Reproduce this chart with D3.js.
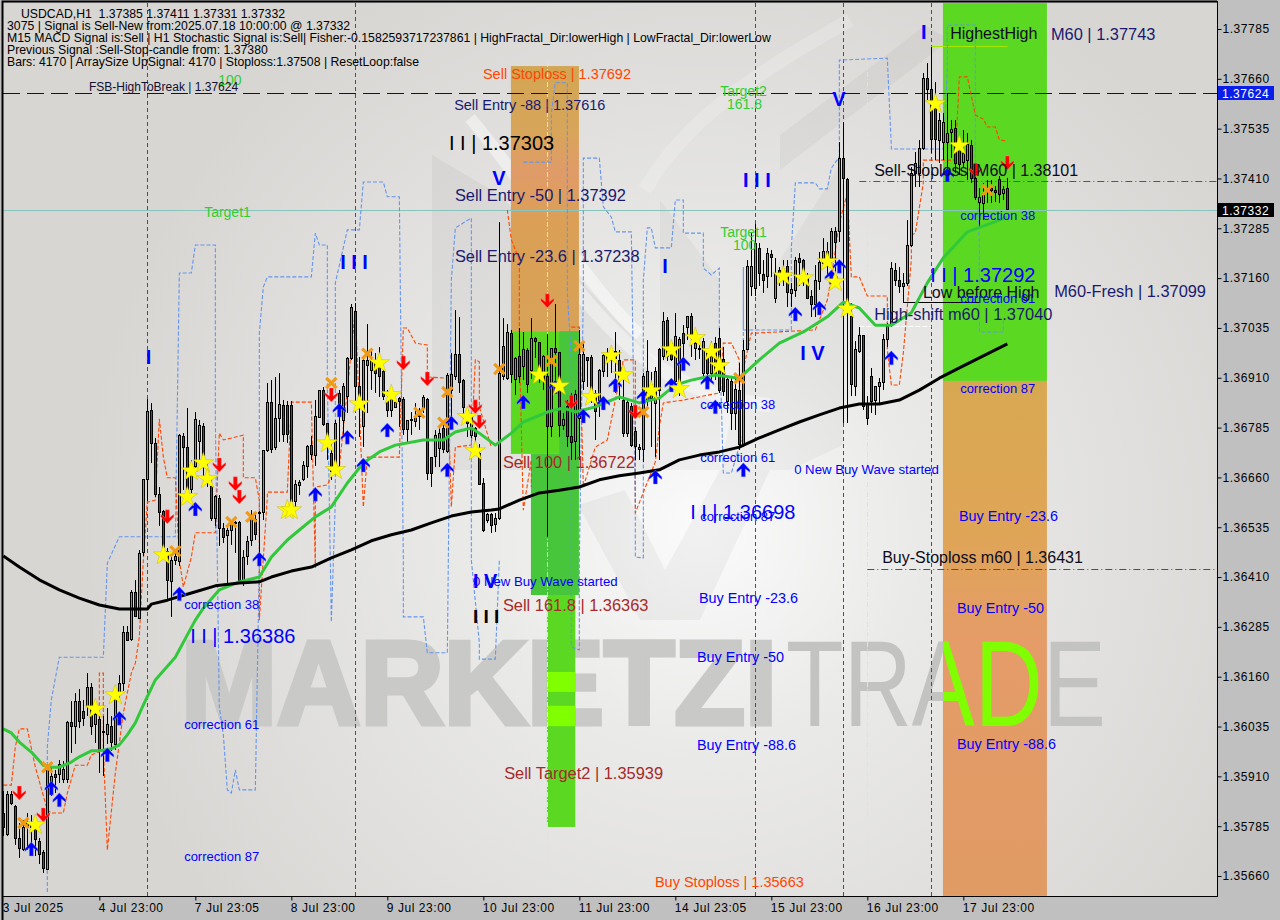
<!DOCTYPE html>
<html>
<head>
<meta charset="utf-8">
<script src="https://cdn.jsdelivr.net/npm/d3@7"></script>
<style>
  html, body { margin: 0; padding: 0; background: #c0c0c0; }
  svg { display: block; font-family: "Liberation Sans", Arial, sans-serif; }
  .axis text { font-size: 12px; letter-spacing: .55px; fill: #000; }
  .axis path, .axis line { stroke: #000; }
</style>
</head>
<body>
<div id="viz"></div>
<script>
// candles
var opens = [1.35818,1.35764,1.35864,1.35835,1.35753,1.35726,1.35781,1.35781,1.35776,1.35747,
1.35720,1.35676,1.35889,1.35914,1.35914,1.35903,1.35903,1.36046,1.36034,1.36098,
1.36073,1.36084,1.36134,1.36040,1.36052,1.36019,1.36015,1.36036,1.35990,1.36119,
1.36143,1.36272,1.36253,1.36372,1.36307,1.36472,1.36656,1.36827,1.36744,1.36618,
1.36575,1.36474,1.36399,1.36452,1.36449,1.36763,1.36734,1.36629,1.36688,1.36750,
1.36788,1.36671,1.36637,1.36556,1.36606,1.36533,1.36514,1.36527,1.36544,1.36547,
1.36402,1.36462,1.36502,1.36554,1.36569,1.36571,1.36728,1.36848,1.36734,1.36809,
1.36840,1.36840,1.36840,1.36600,1.36639,1.36654,1.36688,1.36739,1.36714,1.36811,
1.36877,1.36795,
1.36720,1.36687,1.36871,1.36804,1.36862,1.36959,1.37076,1.36887,1.36787,1.36942,
1.36929,1.36950,1.36946,1.36925,1.36854,1.36829,1.36836,1.36858,1.36856,1.36779,
1.36802,1.36800,1.36825,1.36833,1.36856,1.36710,1.36712,1.36733,1.36783,1.36724,
1.36879,1.36913,1.36969,1.36902,1.36827,1.36766,1.36783,1.36720,1.36645,1.36551,
1.36566,1.36541,1.36557,1.36913,1.36908,1.37020,1.36906,1.36963,1.36938,1.36978,
1.36929,1.37009,1.36998,1.36904,1.36913,1.36787,1.36984,1.36973,1.36789,1.36837,
1.36762,1.36750,1.36808,1.36900,1.36961,1.36961,1.36871,1.36854,1.36925,1.36954,
1.36967,1.36975,1.36954,1.36854,1.36770,1.36839,1.36775,1.36729,1.36729,1.36854,
1.36858,1.36846,1.36982,
1.36963,1.37053,1.36997,1.36900,1.36892,1.37022,1.37037,1.37063,1.36984,1.36980,
1.36921,1.36971,1.36921,1.36997,1.37009,1.36955,1.36850,1.36900,1.36821,1.36879,
1.36742,1.36980,1.37139,1.37134,1.37235,1.37170,1.37164,1.37218,1.37109,1.37180,
1.37172,1.37189,1.37122,1.37130,1.37210,1.37203,1.37159,1.37115,1.37093,1.37151,
1.37197,1.37226,1.37210,1.37276,1.37276,1.37459,1.37408,1.37063,1.36888,1.36975,
1.37017,1.36842,1.36914,1.36854,1.36888,1.36898,1.37005,1.37042,1.37180,1.37155,
1.37140,1.37147,1.37241,1.37423,1.37423,1.37485,1.37662,1.37632,1.37586,1.37505,
1.37499,1.37499,1.37525,1.37536,1.37499,1.37450,1.37455,1.37492,1.37411,1.37350,
1.37348,1.37377,1.37386,1.37381,1.37407,1.37373,1.37385];
var closes = [1.35781,1.35864,1.35842,1.35753,1.35730,1.35781,1.35793,1.35789,1.35751,1.35714,
1.35680,1.35931,1.35910,1.35908,1.35939,1.35927,1.36044,1.36036,1.36098,1.36048,
1.36056,1.36134,1.36036,1.36065,1.35973,1.36023,1.36040,1.35994,1.36115,1.36144,
1.36270,1.36251,1.36372,1.36311,1.36470,1.36656,1.36826,1.36744,1.36617,1.36572,
1.36483,1.36402,1.36452,1.36462,1.36765,1.36735,1.36629,1.36683,1.36805,1.36790,
1.36714,1.36650,1.36556,1.36611,1.36533,1.36510,1.36527,1.36546,1.36547,1.36402,
1.36460,1.36500,1.36562,1.36516,1.36571,1.36727,1.36848,1.36729,1.36809,1.36842,
1.36767,1.36767,1.36600,1.36643,1.36648,1.36689,1.36738,1.36717,1.36813,1.36877,
1.36792,1.36759,
1.36674,1.36796,1.36829,1.36887,1.36958,1.37086,1.36887,1.36862,1.36954,1.36954,
1.36954,1.36921,1.36913,1.36862,1.36827,1.36871,1.36847,1.36850,1.36779,1.36804,
1.36806,1.36808,1.36812,1.36861,1.36670,1.36670,1.36766,1.36770,1.36729,1.36915,
1.36917,1.36969,1.36898,1.36836,1.36796,1.36812,1.36762,1.36643,1.36528,1.36566,
1.36539,1.36557,1.36921,1.36988,1.37023,1.36917,1.36959,1.36913,1.36982,1.36892,
1.37009,1.37000,1.36936,1.36964,1.36787,1.36984,1.36973,1.36789,1.36806,1.36762,
1.36748,1.36867,1.36969,1.36969,1.36954,1.36867,1.36825,1.36928,1.36967,1.36967,
1.36954,1.36959,1.36904,1.36770,1.36847,1.36741,1.36737,1.36735,1.36914,1.36925,
1.36892,1.36925,1.36879,
1.37051,1.36963,1.36955,1.37013,1.37005,1.36997,1.37063,1.37012,1.36997,1.36984,
1.37001,1.36921,1.36963,1.36921,1.36879,1.36875,1.36905,1.36821,1.36881,1.36742,
1.36978,1.37189,1.37189,1.37246,1.37172,1.37155,1.37222,1.37212,1.37172,1.37172,
1.37155,1.37123,1.37132,1.37205,1.37200,1.37150,1.37109,1.37093,1.37155,1.37200,
1.37226,1.37197,1.37276,1.37249,1.37459,1.37410,1.37097,1.36892,1.36980,1.37017,
1.36838,1.36808,1.36850,1.36888,1.36899,1.37006,1.37038,1.37184,1.37155,1.37140,
1.37147,1.37241,1.37423,1.37448,1.37485,1.37661,1.37632,1.37507,1.37507,1.37555,
1.37550,1.37524,1.37532,1.37448,1.37444,1.37473,1.37494,1.37411,1.37363,1.37363,
1.37373,1.37381,1.37381,1.37376,1.37371,1.37383,1.37332];
var highs = [1.35873,1.35873,1.35873,1.35839,1.35793,1.35801,1.35818,1.35814,1.35806,1.35755,
1.35726,1.35935,1.35931,1.35927,1.35952,1.35948,1.36048,1.36098,1.36119,1.36128,
1.36102,1.36169,1.36144,1.36077,1.36061,1.36061,1.36082,1.36061,1.36136,1.36165,
1.36286,1.36286,1.36378,1.36403,1.36479,1.36656,1.36857,1.36846,1.36759,1.36637,
1.36579,1.36483,1.36462,1.36479,1.36770,1.36771,1.36834,1.36704,1.36823,1.36805,
1.36796,1.36696,1.36663,1.36617,1.36617,1.36546,1.36537,1.36554,1.36550,1.36550,
1.36479,1.36512,1.36579,1.36571,1.36575,1.36729,1.36897,1.36905,1.36913,1.36922,
1.36855,1.36851,1.36851,1.36654,1.36654,1.36700,1.36742,1.36763,1.36855,1.36880,
1.36888,1.36796,
1.36745,1.36804,1.36879,1.36896,1.36961,1.37096,1.37098,1.36963,1.36959,1.37046,
1.36979,1.36971,1.36988,1.36938,1.36879,1.36879,1.36854,1.36862,1.36862,1.36804,
1.36825,1.36846,1.36833,1.36867,1.36858,1.36712,1.36779,1.36783,1.36796,1.36921,
1.36971,1.37080,1.37063,1.36908,1.36833,1.36821,1.36787,1.36745,1.36658,1.36570,
1.36570,1.36570,1.37300,1.37059,1.37046,1.37030,1.36963,1.37034,1.37025,1.36984,
1.37059,1.37013,1.37000,1.36967,1.37021,1.36984,1.37096,1.36975,1.36821,1.36854,
1.36871,1.36879,1.37030,1.36996,1.36963,1.36967,1.36879,1.36933,1.36971,1.36984,
1.36975,1.37025,1.36979,1.36904,1.36854,1.36846,1.36787,1.36745,1.36921,1.37005,
1.36925,1.36938,1.36984,
1.37076,1.37063,1.37001,1.37072,1.37013,1.37042,1.37063,1.37072,1.37013,1.36992,
1.37009,1.36980,1.37001,1.37013,1.37034,1.36988,1.36913,1.36913,1.36913,1.36946,
1.37005,1.37206,1.37272,1.37297,1.37247,1.37206,1.37235,1.37231,1.37210,1.37189,
1.37205,1.37205,1.37147,1.37214,1.37222,1.37208,1.37172,1.37130,1.37193,1.37226,
1.37260,1.37251,1.37285,1.37289,1.37502,1.37552,1.37410,1.37097,1.37001,1.37038,
1.37017,1.36863,1.36934,1.36888,1.36909,1.37021,1.37047,1.37201,1.37197,1.37189,
1.37172,1.37306,1.37439,1.37476,1.37506,1.37674,1.37699,1.37741,1.37653,1.37574,
1.37574,1.37624,1.37557,1.37557,1.37507,1.37532,1.37524,1.37507,1.37448,1.37386,
1.37398,1.37407,1.37407,1.37390,1.37415,1.37390,1.37411];
var lows = [1.35760,1.35760,1.35839,1.35739,1.35705,1.35722,1.35726,1.35718,1.35710,1.35689,
1.35668,1.35674,1.35860,1.35868,1.35893,1.35893,1.35893,1.35969,1.35990,1.36031,
1.36036,1.36061,1.36015,1.35994,1.35919,1.35910,1.35990,1.35973,1.35977,1.36102,
1.36123,1.36249,1.36249,1.36310,1.36307,1.36462,1.36600,1.36696,1.36612,1.36537,
1.36462,1.36349,1.36311,1.36441,1.36437,1.36629,1.36621,1.36621,1.36679,1.36704,
1.36654,1.36637,1.36550,1.36537,1.36487,1.36495,1.36391,1.36491,1.36470,1.36395,
1.36387,1.36441,1.36487,1.36504,1.36454,1.36554,1.36725,1.36721,1.36728,1.36750,
1.36750,1.36746,1.36575,1.36575,1.36617,1.36650,1.36658,1.36704,1.36688,1.36809,
1.36788,1.36704,
1.36653,1.36674,1.36687,1.36762,1.36821,1.36954,1.36846,1.36762,1.36737,1.36821,
1.36879,1.36871,1.36862,1.36854,1.36812,1.36812,1.36833,1.36787,1.36766,1.36745,
1.36766,1.36787,1.36779,1.36821,1.36653,1.36635,1.36687,1.36687,1.36720,1.36720,
1.36804,1.36904,1.36871,1.36804,1.36762,1.36758,1.36745,1.36641,1.36524,1.36545,
1.36520,1.36524,1.36553,1.36904,1.36904,1.36896,1.36867,1.36896,1.36904,1.36871,
1.36908,1.36959,1.36896,1.36879,1.36511,1.36762,1.36887,1.36762,1.36779,1.36737,
1.36704,1.36704,1.36704,1.36879,1.36887,1.36846,1.36754,1.36812,1.36913,1.36913,
1.36921,1.36871,1.36854,1.36762,1.36762,1.36737,1.36704,1.36704,1.36699,1.36837,
1.36737,1.36712,1.36704,
1.36955,1.36951,1.36951,1.36888,1.36863,1.36955,1.37005,1.36963,1.36955,1.36956,
1.36905,1.36896,1.36905,1.36905,1.36871,1.36863,1.36821,1.36779,1.36779,1.36729,
1.36737,1.36980,1.37114,1.37114,1.37139,1.37122,1.37134,1.37164,1.37097,1.37139,
1.37139,1.37088,1.37088,1.37113,1.37139,1.37139,1.37109,1.37063,1.37063,1.37130,
1.37189,1.37164,1.37197,1.37172,1.37251,1.36796,1.36796,1.36863,1.36863,1.36971,
1.36829,1.36792,1.36821,1.36817,1.36846,1.36879,1.36988,1.37038,1.37139,1.37122,
1.37097,1.37139,1.37239,1.37389,1.37389,1.37481,1.37607,1.37473,1.37457,1.37448,
1.37457,1.37423,1.37461,1.37423,1.37419,1.37440,1.37407,1.37398,1.37356,1.37290,
1.37306,1.37348,1.37348,1.37352,1.37348,1.37356,1.37331];

// axes
var priceTicks = [1.37785,1.37660,1.37535,1.37410,1.37285,1.37160,1.37035,1.36910,1.36785,1.36660,1.36535,1.36410,1.36285,1.36160,1.36035,1.35910,1.35785,1.35660];
var timeBars = [0,24,48,72,96,120,144,168,192,216,240];
var timeLabels = ["3 Jul 2025","4 Jul 23:00","7 Jul 23:05","8 Jul 23:00","9 Jul 23:00","10 Jul 23:00","11 Jul 23:00","14 Jul 23:05","15 Jul 23:00","16 Jul 23:00","17 Jul 23:00"];

// moving averages (sampled at readable bars)
var slowBars = [0,4,9,14,19,24,29,36,37,41,47,53,59,64,67,72,77,82,87,92,97,102,107,112,117,122,124,129,134,139,144,149,154,159,164,169,174,179,184,189,194,199,204,209,214,219,224,229,234,239,244,249,251];
var slowPrices = [1.36463,1.36435,1.36403,1.36378,1.36357,1.36340,1.36330,1.36330,1.36342,1.36352,1.36370,1.36388,1.36395,1.36398,1.36410,1.36425,1.36435,1.36458,1.36478,1.36501,1.36516,1.36528,1.36546,1.36563,1.36573,1.36578,1.36581,1.36603,1.36621,1.36628,1.36636,1.36654,1.36664,1.36671,1.36679,1.36704,1.36716,1.36724,1.36736,1.36759,1.36779,1.36799,1.36817,1.36834,1.36844,1.36844,1.36854,1.36879,1.36909,1.36935,1.36960,1.36985,1.36995];
var fastBars = [0,2,4,7,10,12,14,17,19,22,24,27,29,31,33,35,38,43,46,48,50,54,59,64,67,71,74,78,82,86,90,94,98,105,110,113,117,119,123,127,130,136,140,143,148,154,159,164,168,172,178,184,189,194,200,206,210,214,218,222,227,231,235,241,247,251];
var fastPrices = [1.36029,1.36019,1.35996,1.35971,1.35938,1.35933,1.35933,1.35946,1.35959,1.35974,1.35974,1.35979,1.35989,1.36014,1.36044,1.36089,1.36152,1.36209,1.36265,1.36302,1.36332,1.36378,1.36398,1.36410,1.36460,1.36503,1.36528,1.36561,1.36586,1.36646,1.36696,1.36724,1.36741,1.36754,1.36754,1.36774,1.36784,1.36771,1.36741,1.36771,1.36799,1.36824,1.36834,1.36824,1.36837,1.36862,1.36847,1.36859,1.36892,1.36904,1.36917,1.36909,1.36955,1.36997,1.37025,1.37063,1.37100,1.37085,1.37042,1.37042,1.37073,1.37148,1.37211,1.37276,1.37298,1.37313];

// stepped dashed envelopes
var blueBars = [11,11,12,14,25,26,29,43,44,47,48,53,53,54,55,56,57,58,59,63,64,64,65,66,77,78,79,81,81,82,83,83,86,89,90,95,96,99,100,100,105,106,111,112,113,117,117,119,119,123,124,124,130,137,137,138,141,141,142,142,144,144,145,145,149,150,152,153,157,158,158,160,160,161,162,163,167,168,170,170,175,175,177,179,179,180,182,185,185,185,197,197,198,203,204,206,207,209,209,221,222,222,235,236,236,243,243,244,244,250,250];
var bluePrices = [1.35620,1.35984,1.36102,1.36209,1.36209,1.36445,1.36511,1.36511,1.37173,1.37173,1.37243,1.37243,1.36804,1.36084,1.36014,1.35876,1.35868,1.35926,1.35876,1.35876,1.36453,1.37022,1.37138,1.37163,1.37163,1.37273,1.37243,1.37243,1.36897,1.36297,1.36603,1.37148,1.37281,1.37281,1.37401,1.37401,1.37364,1.37364,1.36453,1.36310,1.36310,1.36220,1.36220,1.37155,1.37286,1.37311,1.36453,1.36245,1.36204,1.36204,1.36453,null,1.37451,1.37451,1.37574,1.37650,1.37650,1.37123,1.36955,1.36235,1.36227,1.36453,1.37123,1.37461,1.37461,1.37339,1.37313,1.37276,1.37276,1.36571,1.36460,1.36458,1.37155,1.37286,1.37286,1.37236,1.37236,1.37356,1.37356,1.37273,1.37273,1.37185,1.37168,1.37185,1.37022,1.36671,1.36671,1.36771,1.37188,1.37030,1.37030,1.37236,1.37399,1.37399,1.37384,1.37384,1.37436,1.37464,1.37707,1.37712,1.37489,1.37484,1.37484,1.37682,1.37795,1.37795,1.37464,1.37256,1.37025,1.37025,1.37055];
var orangeBars = [0,2,3,4,6,8,11,12,15,16,18,21,22,24,24,25,25,26,28,30,32,33,34,35,36,38,39,40,41,43,44,45,47,48,53,54,55,60,60,63,64,64,66,66,71,72,77,78,78,81,83,84,86,88,90,91,99,100,101,103,106,106,111,112,113,117,118,119,119,122,123,126,127,129,129,130,132,132,136,142,144,145,148,151,155,158,158,163,164,165,170,179,180,182,184,184,187,188,203,206,207,208,209,211,212,214,216,221,221,222,224,225,227,227,228,230,230,238,239,241,243,245,246,248,249,251];
var orangePrices = [1.35888,1.35888,1.35984,1.36029,1.36029,1.35933,1.35826,1.35818,1.35818,1.35868,1.35938,1.35938,1.35964,1.35971,1.36169,1.36169,1.35984,1.35725,1.35918,1.36069,1.36169,1.36194,1.36260,1.36453,1.36598,1.36603,1.36807,1.36711,1.36659,1.36659,1.36453,1.36385,1.36460,1.36521,1.36521,1.36771,1.36754,1.36766,1.36659,1.36659,1.36603,1.36302,1.36611,1.36623,1.36623,1.36849,1.36849,1.36433,1.36636,1.36641,1.36686,1.36686,1.36879,1.37080,1.36586,1.36711,1.36711,1.37035,1.37035,1.36997,1.36992,1.36912,1.36909,1.36586,1.36736,1.36741,1.36955,1.36950,1.36837,1.36736,null,1.37331,1.37256,1.37206,1.36987,1.36578,1.36704,1.36636,null,1.37037,1.37037,1.36636,1.36736,1.36754,1.36955,1.36955,1.36571,1.36699,1.36787,1.36847,1.36854,1.36872,1.36997,1.36997,1.36955,1.36887,1.37022,1.37022,1.37030,1.37105,1.37163,1.37231,1.37298,1.37374,1.37163,1.37163,1.37115,1.37115,1.36980,1.36892,1.36892,1.36972,1.37206,1.37268,1.37273,1.37399,1.37456,1.37456,1.37665,1.37665,1.37569,1.37559,1.37539,1.37539,1.37507,1.37504];

// signal markers
var starBars = [8,28,23,40,46,47,50,51,71,72,81,83,89,94,97,116,118,134,139,147,152,155,162,167,169,173,177,179,195,200,206,208,211,233,239];
var starPrices = [1.35788,1.36114,1.36079,1.36465,1.36611,1.36676,1.36696,1.36656,1.36578,1.36578,1.36746,1.36679,1.36844,1.36947,1.36867,1.36812,1.36726,1.36917,1.36889,1.36862,1.36965,1.36917,1.36877,1.36980,1.36882,1.37010,1.36975,1.36940,1.37165,1.37160,1.37201,1.37150,1.37083,1.37597,1.37492];
var crossBars = [5,11,43,57,62,82,91,104,110,111,124,137,144,160,184,246];
var crossPrices = [1.35793,1.35933,1.36475,1.36548,1.36561,1.36897,1.36970,1.36822,1.36797,1.36874,1.36932,1.36952,1.36990,1.36824,1.36909,1.37381];
var upBars = [7,12,14,26,29,44,48,64,78,84,86,90,96,111,112,130,138,145,150,153,160,163,167,170,176,178,185,198,204,207,209,222,236];
var upPrices = [1.35728,1.35881,1.35851,1.35964,1.36056,1.36368,1.36581,1.36455,1.36618,1.36829,1.36761,1.36691,1.36779,1.36679,1.36797,1.36849,1.36887,1.36814,1.36847,1.36892,1.36862,1.36661,1.36892,1.36945,1.36899,1.36837,1.36679,1.37070,1.37085,1.37163,1.37190,1.36960,1.37419];
var downBars = [4,10,41,54,58,59,82,100,106,118,119,136,142,158,243,251];
var downPrices = [1.35868,1.35813,1.36561,1.36691,1.36644,1.36611,1.36867,1.36947,1.36907,1.36837,1.36799,1.37103,1.36849,1.36824,1.37431,1.37449];

// vertical session markers
var sessionBars = [36,88,188,210,232];
var paleBars = [136,216];

// price level lines
var fsbPrice = 1.37624, lastPrice = 1.37332;
var stopBars = [214,216], stopPrices = [1.37404,1.36431];
var highestPrice = 1.37743, highestBars = [232,251];
var lowBeforeBars = [225,244], lowBeforePrices = [1.37147,1.37099];
var shiftPrice = 1.37040, shiftBars = [214,232];

// fibonacci zones
var zoneLeft = [126.9,126.9,139,131.9,135.9,135.9,135.9,234.9,234.9];
var zoneRight = [143.9,143.9,143.9,143.9,143,143,143,260.9,260.9];
var zoneTop = [1.37692,1.37027,1.37027,1.36719,1.36365,1.36172,1.36087,1.37850,1.36902];
var zoneBottom = [1.37027,1.36719,1.36719,1.36365,1.35783,1.36122,1.36036,1.36902,1.35610];
var zoneKinds = ["sand","green","dark","dark","green","lime","lime","green","peach"];

var headerLines = ["USDCAD,H1  1.37385 1.37411 1.37331 1.37332",
"3075 | Signal is Sell-New from:2025.07.18 10:00:00 @ 1.37332",
"M15 MACD Signal is:Sell | H1 Stochastic Signal is:Sell| Fisher:-0.1582593717237861 | HighFractal_Dir:lowerHigh | LowFractal_Dir:lowerLow",
"Previous Signal :Sell-Stop-candle from: 1.37380",
"Bars: 4170 | ArraySize UpSignal: 4170 | Stoploss:1.37508 | ResetLoop:false"];

var labelTexts = ["Sell Stoploss | 1.37692","Sell Entry -88 | 1.37616","I I | 1.37303","V","Sell Entry -50 | 1.37392","Sell Entry -23.6 | 1.37238","I I I","I","Target1","100","Target2","161.8","Target1","100","FSB-HighToBreak | 1.37624","I I I","V","I","HighestHigh","M60 | 1.37743","Sell-Stoploss |M60 | 1.38101","correction 38","I I | 1.37292","Low before High","correction 61","M60-Fresh | 1.37099","High-shift m60 | 1.37040","I","I V","correction 87","correction 38","correction 61","0 New Buy Wave started","I I | 1.36698","correction 87","Sell 100 | 1.36722","0 New Buy Wave started","I V","Sell 161.8 | 1.36363","I I I","correction 38","I I | 1.36386","correction 61","correction 87","Buy Entry -23.6","Buy Entry -50","Buy Entry -88.6","Buy Entry -23.6","Buy Entry -50","Buy Entry -88.6","Buy-Stoploss m60 | 1.36431","Sell Target2 | 1.35939","Buy Stoploss | 1.35663"];
var labelBars = [119.9,112.7,111.4,122.2,112.9,112.9,84.2,35.6,50.2,53.7,179.2,180.9,179.2,182.4,21.4,184.9,207.2,229.4,236.7,261.9,217.7,239.2,231.7,229.9,239.2,262.7,217.7,164.7,199.2,239.2,174.2,174.2,197.7,171.7,174.2,124.9,117.4,117.4,124.9,117.4,45.2,46.7,45.2,45.2,173.9,173.4,173.4,238.9,238.4,238.4,219.7,125.2,162.9];
var labelPrices = [1.37672,1.37594,1.37499,1.37411,1.37369,1.37216,1.37201,1.36962,1.37326,1.37657,1.37630,1.37597,1.37276,1.37243,1.37640,1.37406,1.37609,1.37778,1.37773,1.37773,1.37429,1.37316,1.37168,1.37125,1.37108,1.37128,1.37070,1.37190,1.36972,1.36882,1.36844,1.36709,1.36681,1.36573,1.36563,1.36699,1.36400,1.36400,1.36340,1.36310,1.36342,1.36262,1.36039,1.35708,1.36357,1.36209,1.35989,1.36563,1.36332,1.35991,1.36460,1.35918,1.35645];
var labelKinds = ["stop","navy","count","mark","navyBig","navyBig","mark","mark","target","target","target","target","target","target","small","mark","mark","mark","blackBig","navyBig","blackBig","corr","wave","blackBig","corr","navyBig","navyBig","mark","mark","corr","corr","corr","note","wave","corr","sell","note","mark","sell","countSmall","corr","wave","corr","corr","buy","buy","buy","buy","buy","buy","blackBig","sell","stop"];

var width = 1280, height = 920, plotRight = 1217, plotBottom = 896;

var x = d3.scaleLinear().domain([0, 251]).range([3.33, 1007.33]);
var y = d3.scaleLinear().domain([1.35660, 1.37785]).range([876, 29]);

var labelStyles = {
  stop: {size: 14.5, fill: "#ff4500"},
  navy: {size: 14.5, fill: "#191970"},
  navyBig: {size: 16.4, fill: "#191970"},
  blackBig: {size: 16, fill: "#0c0c20"},
  count: {size: 20, fill: "#000"},
  countSmall: {size: 19, fill: "#000", weight: "bold"},
  wave: {size: 20, fill: "#0000ff"},
  mark: {size: 20, fill: "#0000ff", weight: "bold"},
  target: {size: 14, fill: "#32cd32"},
  small: {size: 12, fill: "#101030"},
  corr: {size: 13, fill: "#0000ff"},
  note: {size: 13.2, fill: "#0000ff"},
  buy: {size: 14.4, fill: "#0000ff"},
  sell: {size: 16.4, fill: "#a52a2a"}
};

var svg = d3.select("#viz").append("svg").attr("width", width).attr("height", height);
var defs = svg.append("defs");

var bgGrad = defs.append("radialGradient").attr("id", "bg").attr("gradientUnits", "userSpaceOnUse")
    .attr("cx", 700).attr("cy", 530).attr("r", 620);
bgGrad.append("stop").attr("offset", 0).attr("stop-color", "#fbfbfb");
bgGrad.append("stop").attr("offset", .35).attr("stop-color", "#eaeae9");
bgGrad.append("stop").attr("offset", 1).attr("stop-color", "#d8d6d3");

var sandGrad = defs.append("linearGradient").attr("id", "sand").attr("x2", 0).attr("y2", 1);
sandGrad.append("stop").attr("offset", 0).attr("stop-color", "#d2a653");
sandGrad.append("stop").attr("offset", .25).attr("stop-color", "#d8a55a");
sandGrad.append("stop").attr("offset", .4).attr("stop-color", "#e09b68");
sandGrad.append("stop").attr("offset", .6).attr("stop-color", "#dba055");
sandGrad.append("stop").attr("offset", 1).attr("stop-color", "#d7a258");

var peachGrad = defs.append("linearGradient").attr("id", "peach").attr("x2", 0).attr("y2", 1);
peachGrad.append("stop").attr("offset", 0).attr("stop-color", "#d8a851");
peachGrad.append("stop").attr("offset", .3).attr("stop-color", "#dfa557");
peachGrad.append("stop").attr("offset", .5).attr("stop-color", "#e59c68");
peachGrad.append("stop").attr("offset", 1).attr("stop-color", "#e09a64");

defs.append("clipPath").attr("id", "plot").append("rect")
    .attr("x", 3).attr("y", 3).attr("width", plotRight - 3).attr("height", plotBottom - 3);
defs.append("clipPath").attr("id", "zone2").append("rect")
    .attr("x", x(234.9)).attr("y", 3).attr("width", x(260.9) - x(234.9)).attr("height", plotBottom - 3);

svg.append("rect").attr("width", width).attr("height", height).attr("fill", "#c0c0c0");

var plot = svg.append("g").attr("clip-path", "url(#plot)");
plot.append("rect").attr("x", 3).attr("y", 3).attr("width", plotRight - 3).attr("height", plotBottom - 3).attr("fill", "url(#bg)");

// faint logo shapes behind the chart
var logo = plot.append("g");
logo.append("path").attr("d", "M432 155L432 470L660 470L660 365L500 195Z").attr("fill", "#000").attr("opacity", .04);
logo.append("path").attr("d", "M660 470L660 200L720 280L720 470ZM720 470L755 300L843 160L843 445L790 470Z").attr("fill", "#000").attr("opacity", .03);
logo.append("path").attr("d", "M780 135L880 60L925 25L950 40L780 170Z").attr("fill", "#000").attr("opacity", .035);
logo.append("path").attr("d", "M578 505L640 620L700 620L770 470L720 470L665 570L625 490Z").attr("fill", "#000").attr("opacity", .04);
logo.append("path").attr("d", "M470 118C520 175 590 290 640 335").attr("fill", "none").attr("stroke", "#fff").attr("stroke-width", 12).attr("opacity", .45);
logo.append("path").attr("d", "M560 270C610 330 660 395 770 405").attr("fill", "none").attr("stroke", "#fff").attr("stroke-width", 14).attr("opacity", .4);
logo.append("path").attr("d", "M645 190C690 110 780 60 850 20").attr("fill", "none").attr("stroke", "#fff").attr("stroke-width", 14).attr("opacity", .18);

// watermark words
function watermark(g, fillA, fillB) {
  g.append("text").attr("x", 181).attr("y", 724).attr("font-size", 118).attr("font-weight", "bold")
    .attr("textLength", 596).attr("lengthAdjust", "spacingAndGlyphs")
    .attr("fill", fillA).attr("stroke", fillA).attr("stroke-width", 5).text("MARKETZI");
  g.append("text").attr("x", 786).attr("y", 726).attr("font-size", 122)
    .attr("textLength", 320).attr("lengthAdjust", "spacingAndGlyphs").attr("fill", fillB).text("TRADE");
}
watermark(plot.append("g"), "#c9c9c7", "#c3c3c1");

// zones
var zoneFill = {sand: "url(#sand)", green: "#5bd922", dark: "#47c63b", lime: "#7fff00", peach: "url(#peach)"};
plot.append("g").selectAll("rect").data(zoneKinds).join("rect")
    .attr("x", function(d, i) { return x(zoneLeft[i]); })
    .attr("width", function(d, i) { return x(zoneRight[i]) - x(zoneLeft[i]); })
    .attr("y", function(d, i) { return y(zoneTop[i]); })
    .attr("height", function(d, i) { return y(zoneBottom[i]) - y(zoneTop[i]); })
    .attr("fill", function(d) { return zoneFill[d]; });

watermark(plot.append("g").attr("clip-path", "url(#zone2)"), "none", "#7fff00");

function snap(v) { return Math.round(v) + .5; }

// vertical markers
plot.append("g").selectAll("line").data(sessionBars).join("line")
    .attr("x1", function(d) { return snap(x(d)); }).attr("x2", function(d) { return snap(x(d)); })
    .attr("y1", 3).attr("y2", plotBottom)
    .attr("stroke", "#b8127c").attr("stroke-dasharray", "4,3");
plot.append("g").selectAll("line").data(paleBars).join("line")
    .attr("x1", function(d) { return snap(x(d)); }).attr("x2", function(d) { return snap(x(d)); })
    .attr("y1", 62).attr("y2", plotBottom)
    .attr("stroke", "#c8ecec").attr("stroke-dasharray", "5,2,1,2");

// level lines
function level(x1, x2, price, color, dash) {
  plot.append("line").attr("x1", x1).attr("x2", x2).attr("y1", snap(y(price))).attr("y2", snap(y(price)))
      .attr("stroke", color).attr("stroke-dasharray", dash);
}
level(3, plotRight, fsbPrice, "#0000c8", "17,7");
level(3, plotRight, lastPrice, "#86c4bd", null);
stopBars.forEach(function(b, i) {
  level(x(b), plotRight, stopPrices[i], i ? "#c02020" : "#ff1010", "7,3,1,3");
});
level(x(highestBars[0]), x(highestBars[1]), highestPrice, "#a6e600", null);
level(x(shiftBars[0]), x(shiftBars[1]), shiftPrice, "#ffffff", "5,2");
plot.append("path").attr("fill", "none").attr("stroke", "#000")
    .attr("d", d3.line()([[snap(x(lowBeforeBars[0])), y(lowBeforePrices[0])], [snap(x(lowBeforeBars[0])), snap(y(lowBeforePrices[1]))], [x(lowBeforeBars[1]), snap(y(lowBeforePrices[1]))]]));

// dashed envelopes
function stepLine(bars, prices, color) {
  var pts = bars.map(function(b, i) { return [b, prices[i]]; });
  plot.append("path").datum(pts).attr("fill", "none").attr("stroke", color)
      .attr("stroke-dasharray", "4,2").attr("stroke-width", 1.1)
      .attr("d", d3.line().defined(function(d) { return d[1] !== null; })
        .x(function(d) { return x(d[0]); }).y(function(d) { return y(d[1]); }));
}
stepLine(blueBars, bluePrices, "#6495ed");
stepLine(orangeBars, orangePrices, "#ff4500");

// candles
var bars = d3.range(opens.length);
var candles = plot.append("g").attr("shape-rendering", "crispEdges");
candles.selectAll("line").data(bars).join("line")
    .attr("x1", function(i) { return Math.round(x(i)) + .5; })
    .attr("x2", function(i) { return Math.round(x(i)) + .5; })
    .attr("y1", function(i) { return y(highs[i]); })
    .attr("y2", function(i) { return y(lows[i]); })
    .attr("stroke", "#000");
candles.selectAll("rect").data(bars).join("rect")
    .attr("x", function(i) { return Math.round(x(i)) - .5; })
    .attr("width", 2)
    .attr("y", function(i) { return y(Math.max(opens[i], closes[i])); })
    .attr("height", function(i) { return Math.max(1, Math.abs(y(opens[i]) - y(closes[i]))); })
    .attr("fill", function(i) { return closes[i] >= opens[i] ? "#2cc47c" : "#b0243f"; })
    .attr("stroke", "#000");

// moving averages
function maLine(xs, ps, color, w) {
  plot.append("path").datum(xs).attr("fill", "none").attr("stroke", color).attr("stroke-width", w)
      .attr("stroke-linejoin", "round")
      .attr("d", d3.line().x(function(d) { return x(d); }).y(function(d, i) { return y(ps[i]); }));
}
maLine(fastBars, fastPrices, "#32c83c", 3);
maLine(slowBars, slowPrices, "#000000", 3);

// markers
var upArrow = "M0,-7L6.5,0L6.5,2.5L2,-1L2,7L-2,7L-2,-1L-6.5,2.5L-6.5,0Z";
plot.append("g").selectAll("path").data(upBars).join("path")
    .attr("d", upArrow).attr("fill", "#0000ff").attr("stroke", "#7f9fff").attr("stroke-width", .4)
    .attr("transform", function(d, i) { return "translate(" + x(d) + "," + y(upPrices[i]) + ")"; });
plot.append("g").selectAll("path").data(downBars).join("path")
    .attr("d", upArrow).attr("fill", "#ff0000").attr("stroke", "#ff8f8f").attr("stroke-width", .4)
    .attr("transform", function(d, i) { return "translate(" + x(d) + "," + y(downPrices[i]) + ") scale(1,-1)"; });
plot.append("g").selectAll("path").data(crossBars).join("path")
    .attr("d", d3.symbol(d3.symbolX, 70)).attr("fill", "none").attr("stroke", "#f09a16").attr("stroke-width", 3.2)
    .attr("transform", function(d, i) { return "translate(" + x(d) + "," + y(crossPrices[i]) + ")"; });
plot.append("g").selectAll("path").data(starBars).join("path")
    .attr("d", d3.symbol(d3.symbolStar, 130)).attr("fill", "#ffff00").attr("stroke", "#c8b800").attr("stroke-width", .5)
    .attr("transform", function(d, i) { return "translate(" + x(d) + "," + y(starPrices[i]) + ")"; });

// text objects
plot.append("g").selectAll("text").data(labelTexts).join("text")
    .attr("x", function(d, i) { return x(labelBars[i]); })
    .attr("y", function(d, i) { return y(labelPrices[i]); })
    .attr("dominant-baseline", "central")
    .attr("font-size", function(d, i) { return labelStyles[labelKinds[i]].size; })
    .attr("font-weight", function(d, i) { return labelStyles[labelKinds[i]].weight || "normal"; })
    .attr("fill", function(d, i) { return labelStyles[labelKinds[i]].fill; })
    .text(function(d) { return d; });

plot.append("g").selectAll("text").data(headerLines).join("text")
    .attr("x", function(d, i) { return i ? 7 : 21; })
    .attr("y", function(d, i) { return 17.5 + i * 12.2; })
    .attr("font-size", 12.25).attr("fill", "#000")
    .attr("xml:space", "preserve").style("white-space", "pre")
    .text(function(d) { return d; });

// frame
svg.append("path").attr("fill", "none").attr("stroke", "#000").attr("stroke-width", 2)
    .attr("d", "M2.5 920V" + plotBottom + "M2.5 " + plotBottom + "V1.5H" + plotRight);

// axes
var yAxis = svg.append("g").attr("class", "axis").attr("transform", "translate(" + (plotRight + .5) + ",0)")
    .call(d3.axisRight(y).tickValues(priceTicks).tickSize(4).tickPadding(1).tickFormat(d3.format(".5f")));
yAxis.select(".domain").attr("d", "M0,1V" + plotBottom);

var xAxis = svg.append("g").attr("class", "axis").attr("transform", "translate(0," + (plotBottom + .5) + ")")
    .call(d3.axisBottom(x).tickValues(timeBars).tickSize(4).tickPadding(3)
      .tickFormat(function(d, i) { return timeLabels[i]; }));
xAxis.select(".domain").attr("d", "M2,0H" + (plotRight + 1));
xAxis.selectAll(".tick text").attr("text-anchor", "start").attr("x", -1);
xAxis.selectAll(".tick line").filter(function(d) { return d === 0; }).remove();

// price tags
var tags = [[fsbPrice, "#0a1eea"], [lastPrice, "#000"]];
tags.forEach(function(t) {
  svg.append("rect").attr("x", plotRight + 1).attr("y", Math.round(y(t[0])) - 7).attr("width", 56).attr("height", 14).attr("fill", t[1]);
  svg.append("text").attr("x", plotRight + 5).attr("y", Math.round(y(t[0])) + 4.5).attr("font-size", 12)
     .attr("letter-spacing", ".55px").attr("fill", "#fff").text(d3.format(".5f")(t[0]));
});
</script>
</body>
</html>
